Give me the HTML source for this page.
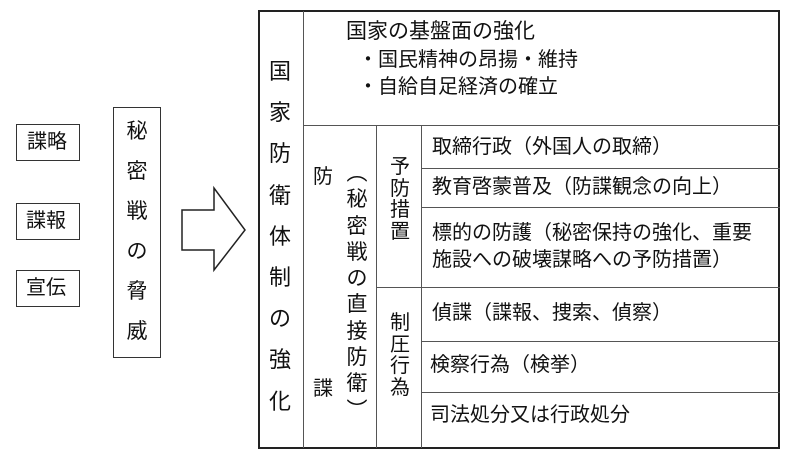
<!DOCTYPE html>
<html><head><meta charset="utf-8"><style>
body{margin:0;width:791px;height:458px;background:#fff;position:relative;overflow:hidden;font-family:"Liberation Sans","Noto Sans CJK JP",sans-serif;color:#111}
.a{position:absolute}
.b{position:absolute;border:1.5px solid #333;box-sizing:border-box}
.l{position:absolute;background:#555}
.t{position:absolute;font-size:20px;line-height:20px;white-space:nowrap}
.v{position:absolute;width:30px;text-align:center;white-space:nowrap}
</style></head><body>
<div class="b" style="left:16px;top:124px;width:64px;height:37px"></div>
<div class="t" style="left:27px;top:132px">諜略</div>
<div class="b" style="left:16px;top:203px;width:64px;height:37px"></div>
<div class="t" style="left:26px;top:211px">諜報</div>
<div class="b" style="left:16px;top:270px;width:64px;height:37px"></div>
<div class="t" style="left:26px;top:278px">宣伝</div>
<div class="b" style="left:113px;top:107px;width:48px;height:251px"></div>
<div class="v" style="left:122px;top:112px;font-size:21px;line-height:40px">秘<br>密<br>戦<br>の<br>脅<br>威</div>
<svg class="a" style="left:0;top:0" width="791" height="458"><polygon points="182,210 214,210 214,188 245,230 214,270 214,250 182,250" fill="#fff" stroke="#222" stroke-width="1.5"/></svg>
<div class="b" style="left:258px;top:10px;width:522px;height:439px;border-width:2px;border-color:#222"></div>
<div class="l" style="left:303px;top:11px;width:1px;height:437px"></div>
<div class="l" style="left:303px;top:125px;width:477px;height:1px"></div>
<div class="l" style="left:376px;top:125px;width:1px;height:323px"></div>
<div class="l" style="left:421px;top:125px;width:1px;height:323px"></div>
<div class="l" style="left:376px;top:287px;width:404px;height:1px"></div>
<div class="l" style="left:421px;top:168px;width:359px;height:1px"></div>
<div class="l" style="left:421px;top:207px;width:359px;height:1px"></div>
<div class="l" style="left:421px;top:341px;width:359px;height:1px"></div>
<div class="l" style="left:421px;top:392px;width:359px;height:1px"></div>
<div class="v" style="left:265px;top:51px;font-size:22px;line-height:41.2px">国<br>家<br>防<br>衛<br>体<br>制<br>の<br>強<br>化</div>
<div class="t" style="left:313px;top:167px">防</div>
<div class="t" style="left:313px;top:379px">諜</div>
<div class="v" style="left:342px;top:161px;font-size:21px;line-height:26.3px">︵<br>秘<br>密<br>戦<br>の<br>直<br>接<br>防<br>衛<br>︶</div>
<div class="v" style="left:385px;top:157px;font-size:20px;line-height:21.5px">予<br>防<br>措<br>置</div>
<div class="v" style="left:385px;top:313px;font-size:20px;line-height:21.5px">制<br>圧<br>行<br>為</div>
<div class="t" style="left:346px;top:22px;font-size:21px">国家の基盤面の強化</div>
<div class="t" style="left:358px;top:50px">・国民精神の昂揚・維持</div>
<div class="t" style="left:358px;top:77px">・自給自足経済の確立</div>
<div class="t" style="left:432px;top:137px">取締行政（外国人の取締）</div>
<div class="t" style="left:432px;top:177px">教育啓蒙普及（防諜観念の向上）</div>
<div class="t" style="left:432px;top:223px">標的の防護（秘密保持の強化、重要</div>
<div class="t" style="left:432px;top:250px">施設への破壊謀略への予防措置）</div>
<div class="t" style="left:432px;top:303px">偵諜（諜報、捜索、偵察）</div>
<div class="t" style="left:430px;top:355px">検察行為（検挙）</div>
<div class="t" style="left:430px;top:405px">司法処分又は行政処分</div>
</body></html>
